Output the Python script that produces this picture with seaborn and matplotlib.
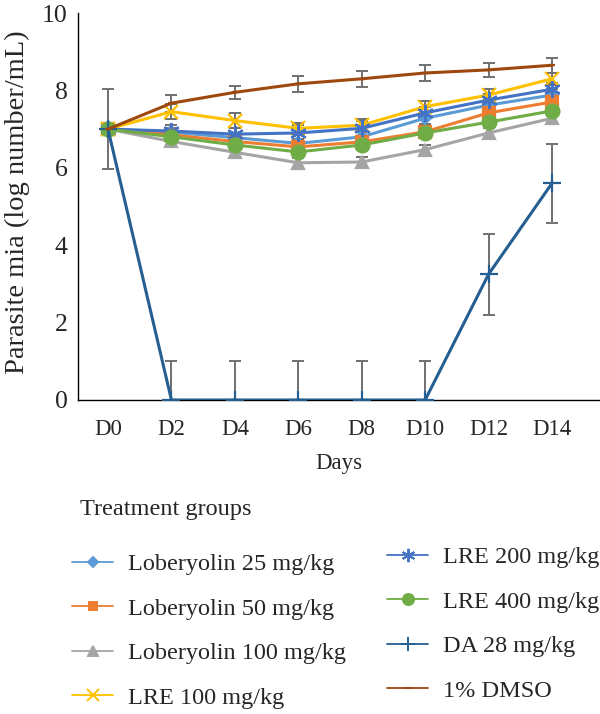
import numpy as np
import pandas as pd
import matplotlib
matplotlib.use("Agg")
import matplotlib.pyplot as plt
from matplotlib.lines import Line2D
import seaborn as sns

# --- data ---
days = ['D0', 'D2', 'D4', 'D6', 'D8', 'D10', 'D12', 'D14']

groups = ['Loberyolin 25 mg/kg', 'Loberyolin 50 mg/kg', 'Loberyolin 100 mg/kg',
          'LRE 100 mg/kg', 'LRE 200 mg/kg', 'LRE 400 mg/kg', 'DA 28 mg/kg', '1% DMSO']

lob25 = [7.0, 6.92, 6.78, 6.63, 6.80, 7.28, 7.62, 7.88]
lob50 = [7.0, 6.85, 6.68, 6.54, 6.67, 6.93, 7.42, 7.70]
lob100 = [7.0, 6.68, 6.40, 6.13, 6.15, 6.47, 6.90, 7.28]
lre100 = [7.0, 7.45, 7.22, 7.02, 7.10, 7.58, 7.88, 8.30]
lre200 = [7.0, 6.95, 6.87, 6.90, 7.02, 7.42, 7.75, 8.03]
lre400 = [7.0, 6.80, 6.59, 6.41, 6.59, 6.90, 7.18, 7.47]
da28 = [7.0, 0.0, 0.0, 0.0, 0.0, 0.0, 3.25, 5.60]
dmso = [7.0, 7.67, 7.95, 8.17, 8.30, 8.45, 8.53, 8.65]

lob25_err = [0.15, 0.12, 0.12, 0.12, 0.12, 0.15, 0.15, 0.15]
lob50_err = [0.15, 0.12, 0.12, 0.12, 0.12, 0.12, 0.15, 0.15]
lob100_err = [0.15, 0.12, 0.12, 0.12, 0.12, 0.12, 0.12, 0.12]
lre100_err = [0.15, 0.2, 0.2, 0.15, 0.15, 0.15, 0.15, 0.15]
lre200_err = [0.15, 0.15, 0.15, 0.2, 0.2, 0.15, 0.15, 0.15]
lre400_err = [0.15, 0.12, 0.12, 0.12, 0.12, 0.12, 0.12, 0.12]
da28_err = [1.03, 1.0, 1.0, 1.0, 1.0, 1.0, 1.05, 1.02]
dmso_err = [0.15, 0.22, 0.17, 0.2, 0.2, 0.2, 0.19, 0.2]

series = [lob25, lob50, lob100, lre100, lre200, lre400, da28, dmso]
errors = [lob25_err, lob50_err, lob100_err, lre100_err, lre200_err, lre400_err, da28_err, dmso_err]

colors = ['#5B9BD5', '#ED7D31', '#A5A5A5', '#FFC000', '#4472C4', '#70AD47', '#255E91', '#9E480E']
markers = ['D', 's', '^', 'x', (6, 2, 0), 'o', '+', '_']
msizes = [6, 8, 9, 10, 12, 10, 13, 5]

sns.set_style("white")
plt.rcParams['font.family'] = ['Liberation Serif', 'DejaVu Serif']

fig = plt.figure(figsize=(6, 7.14), dpi=100)
ax = fig.add_axes([78 / 600, 1 - 400 / 714, 522 / 600, 387 / 714])

x = np.arange(len(days))

# error bars first so the lines sit on top
for vals, err in zip(series, errors):
    ax.errorbar(x, vals, yerr=err, fmt='none', ecolor='#707070', elinewidth=1.4,
                capsize=4, capthick=1.4, zorder=1)

for i, (name, vals) in enumerate(zip(groups, series)):
    df = pd.DataFrame({'x': x, 'y': vals})
    sns.lineplot(data=df, x='x', y='y', ax=ax, color=colors[i], marker=markers[i],
                 markersize=msizes[i], markeredgecolor=colors[i], markeredgewidth=1.6,
                 linewidth=2.2, sort=False, legend=False, zorder=2 + i)

ax.set_xlim(-0.473, 7.757)
ax.set_ylim(0, 10)
ax.set_xticks(x)
ax.set_xticklabels(days, fontsize=16.5)
ax.set_yticks([0, 2, 4, 6, 8, 10])
ax.set_yticklabels(['0', '2', '4', '6', '8', '10'], fontsize=18.5)
ax.tick_params(axis='x', length=0, pad=14)
ax.tick_params(axis='y', length=6.5, width=1, direction='out', color='black', pad=1)
ax.set_xlabel('Days', fontsize=16.5, labelpad=9)
ax.set_ylabel('Parasite mia (log number/mL)', fontsize=20.5)
ax.yaxis.set_label_coords(-0.092, 0.51)

for s in ['top', 'right']:
    ax.spines[s].set_visible(False)
for s in ['left', 'bottom']:
    ax.spines[s].set_color('black')
    ax.spines[s].set_linewidth(1.0)
ax.spines['left'].set_zorder(20)
ax.spines['bottom'].set_zorder(0)

# legend
LFS = 17.5
fig.text(80 / 600, 1 - 510 / 714, 'Treatment groups', fontsize=LFS, va='center', ha='left')

handles = [Line2D([], [], color=colors[i], marker=markers[i], markersize=msizes[i] * 0.8,
                  markeredgecolor=colors[i], markeredgewidth=1.4, linewidth=1.3)
           for i in range(len(groups))]

leg_kw = dict(frameon=False, fontsize=LFS, handlelength=1.69, handletextpad=0.62,
              labelspacing=0.93, borderpad=0, borderaxespad=0, loc='upper left')
leg1 = fig.legend(handles[:4], groups[:4], bbox_to_anchor=(72 / 600, 1 - 553 / 714), **leg_kw)
leg2 = fig.legend(handles[4:], groups[4:], bbox_to_anchor=(387 / 600, 1 - 546 / 714), **leg_kw)

fig.savefig('out.png', dpi=100)
